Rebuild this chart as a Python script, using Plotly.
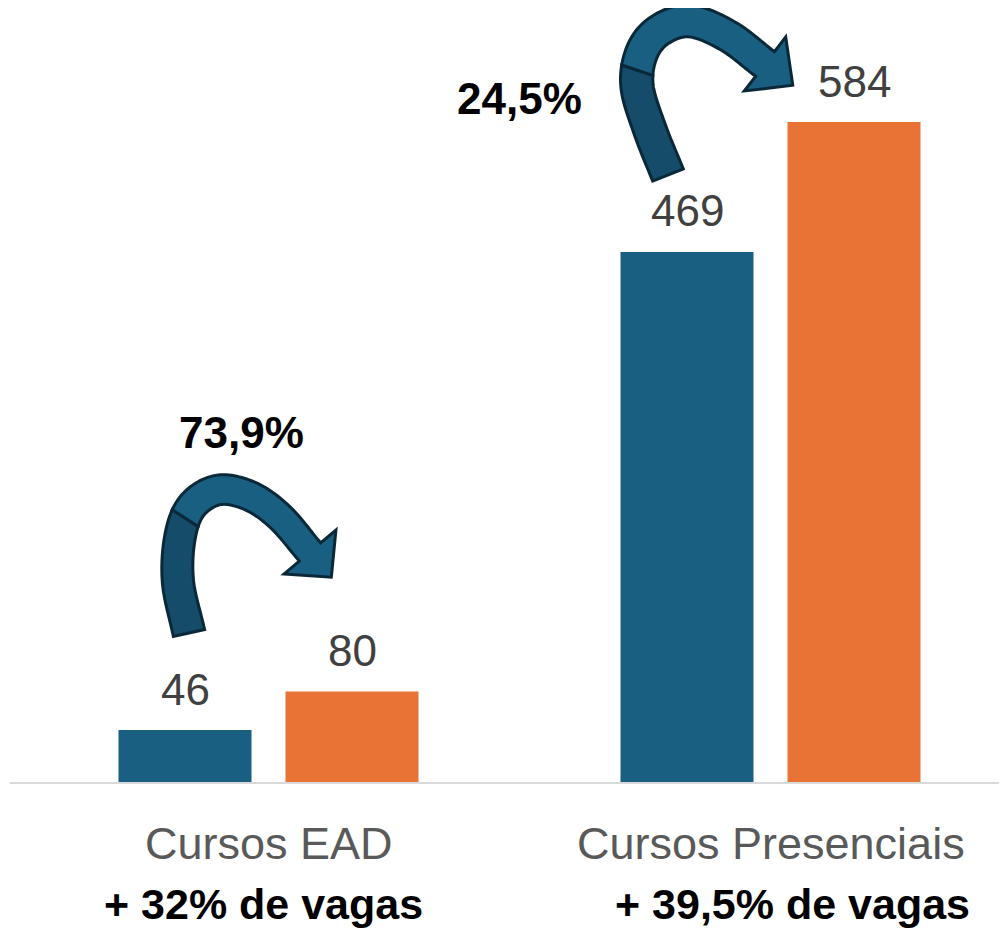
import numpy as np
import plotly.graph_objects as go

# ---------------- data ----------------
categories = ["Cursos EAD", "Cursos Presenciais"]
values_before = [46, 469]
values_after = [80, 584]
growth_labels = ["73,9%", "24,5%"]
subtitles = ["+ 32% de vagas", "+ 39,5% de vagas"]

# ---------------- layout geometry ----------------
PAGE_OFF = 8                    # default body margin of the html page
W, H = 1007 - PAGE_OFF, 930 - PAGE_OFF
BASE_PX = 782 - PAGE_OFF        # baseline, figure pixels
ML, MR, MT, MB = 10 - PAGE_OFF, 0, 0, H - BASE_PX
PLOT_H = BASE_PX - MT
CAT0_PX = 268.5 - PAGE_OFF      # figure-x of first category centre
PX_PER_CAT = 502.0
PX_PER_UNIT = 660.0 / 584.0
Y_MAX = PLOT_H / PX_PER_UNIT

BAR_W = 133 / PX_PER_CAT
OFF_BEFORE = -150 / PX_PER_CAT
OFF_AFTER = 17 / PX_PER_CAT

BLUE = "#185f82"
ORANGE = "#e87335"
DARK_BLUE = "#144c69"
OUTLINE = "#0b2839"


def to_data(px, py):
    """reference-page pixel -> data coordinates"""
    fx, fy = px - PAGE_OFF, py - PAGE_OFF
    return ((fx - CAT0_PX) / PX_PER_CAT, (BASE_PX - fy) / PX_PER_UNIT)


xpos = list(range(len(categories)))

fig = go.Figure()
fig.add_trace(go.Bar(x=xpos, y=values_before, width=BAR_W, offset=OFF_BEFORE,
                     marker=dict(color=BLUE, line=dict(width=0)), name="antes"))
fig.add_trace(go.Bar(x=xpos, y=values_after, width=BAR_W, offset=OFF_AFTER,
                     marker=dict(color=ORANGE, line=dict(width=0)), name="depois"))

annotations = []
for i in xpos:
    for vals, off in ((values_before, OFF_BEFORE), (values_after, OFF_AFTER)):
        annotations.append(dict(x=i + off + BAR_W / 2, y=vals[i], text=str(vals[i]),
                                showarrow=False, yanchor="middle", yshift=41,
                                font=dict(family="Liberation Sans, Arial", size=44, color="#404040")))
    annotations.append(dict(x=i, y=0, yref="y", text=categories[i], showarrow=False,
                            yanchor="middle", yshift=-61,
                            font=dict(family="Liberation Sans, Arial", size=45, color="#595959")))
sub_shift = [-5, 22]
for i in xpos:
    annotations.append(dict(x=i, y=0, yref="y", text="<b>%s</b>" % subtitles[i], showarrow=False,
                            yanchor="middle", yshift=-122, xshift=sub_shift[i],
                            font=dict(family="Liberation Sans, Arial", size=43, color="#000000")))

growth_px = [(241, 432), (519, 98)]
for lab, (gx, gy) in zip(growth_labels, growth_px):
    dx, dy = to_data(gx, gy)
    annotations.append(dict(x=dx, y=dy, text="<b>%s</b>" % lab, showarrow=False,
                            yanchor="middle", xanchor="center",
                            font=dict(family="Liberation Sans, Arial", size=44, color="#000000")))


# ---------------- curved arrows (decoration) ----------------
def catmull(pts, samples=16):
    P = np.array(pts, float)
    P = np.vstack([2 * P[0] - P[1], P, 2 * P[-1] - P[-2]])
    out = []
    for i in range(1, len(P) - 2):
        p0, p1, p2, p3 = P[i - 1], P[i], P[i + 1], P[i + 2]
        for t in np.linspace(0, 1, samples, endpoint=False):
            t2, t3 = t * t, t * t * t
            out.append(0.5 * ((2 * p1) + (-p0 + p2) * t + (2 * p0 - 5 * p1 + 4 * p2 - p3) * t2
                              + (-p0 + 3 * p1 - 3 * p2 + p3) * t3))
    out.append(P[-2])
    return np.array(out)


def path_str(points):
    parts = []
    for j, (px, py) in enumerate(points):
        dx, dy = to_data(px, py)
        parts.append(("M" if j == 0 else "L") + "%.5f,%.5f" % (dx, dy))
    return " ".join(parts) + " Z"


def arrow_shapes(center, w0, w1, barb, tip, split):
    C = catmull(center)
    T = np.gradient(C, axis=0)
    T /= np.linalg.norm(T, axis=1)[:, None]
    N = np.stack([-T[:, 1], T[:, 0]], 1)
    seg = np.r_[0, np.cumsum(np.linalg.norm(np.diff(C, axis=0), axis=1))]
    s = seg / seg[-1]
    w = w0 + (w1 - w0) * s
    A = C + N * (w / 2)[:, None]
    B = C - N * (w / 2)[:, None]
    k = int(np.searchsorted(s, split))
    kd = min(k + 3, len(C) - 1)
    dark = list(A[:k + 1]) + list(B[:kd + 1][::-1])
    end, te, ne = C[-1], T[-1], N[-1]
    light = list(A[k:]) + [end + ne * barb, end + te * tip, end - ne * barb] + list(B[kd:][::-1])
    return [
        dict(type="path", xref="x", yref="y", path=path_str(dark), fillcolor=DARK_BLUE,
             line=dict(color=OUTLINE, width=3), layer="above"),
        dict(type="path", xref="x", yref="y", path=path_str(light), fillcolor=BLUE,
             line=dict(color=OUTLINE, width=3), layer="above"),
    ]


shapes = []
arrow1 = [(189, 633), (178, 582), (180, 537), (192, 506), (218, 490), (250, 496), (280, 517), (310, 552)]
arrow2 = [(668, 175), (650, 130), (637, 86), (642, 52), (660, 30), (690, 21), (728, 36), (765, 64)]
shapes += arrow_shapes(arrow1, 32, 28, 34, 33, 0.40)
shapes += arrow_shapes(arrow2, 33, 31, 34, 35, 0.38)

fig.update_layout(
    width=W, height=H,
    margin=dict(l=ML, r=MR, t=MT, b=MB, pad=0),
    paper_bgcolor="white", plot_bgcolor="white",
    barmode="overlay", showlegend=False,
    xaxis=dict(range=[(ML - CAT0_PX) / PX_PER_CAT, (W - MR - CAT0_PX) / PX_PER_CAT],
               showgrid=False, zeroline=False, showticklabels=False, ticks="",
               showline=True, linecolor="#d9d9d9", linewidth=2, fixedrange=True),
    yaxis=dict(range=[0, Y_MAX], showgrid=False, zeroline=False, showticklabels=False,
               ticks="", showline=False, fixedrange=True),
    annotations=annotations,
    shapes=shapes,
)

fig.write_html("out.html")
